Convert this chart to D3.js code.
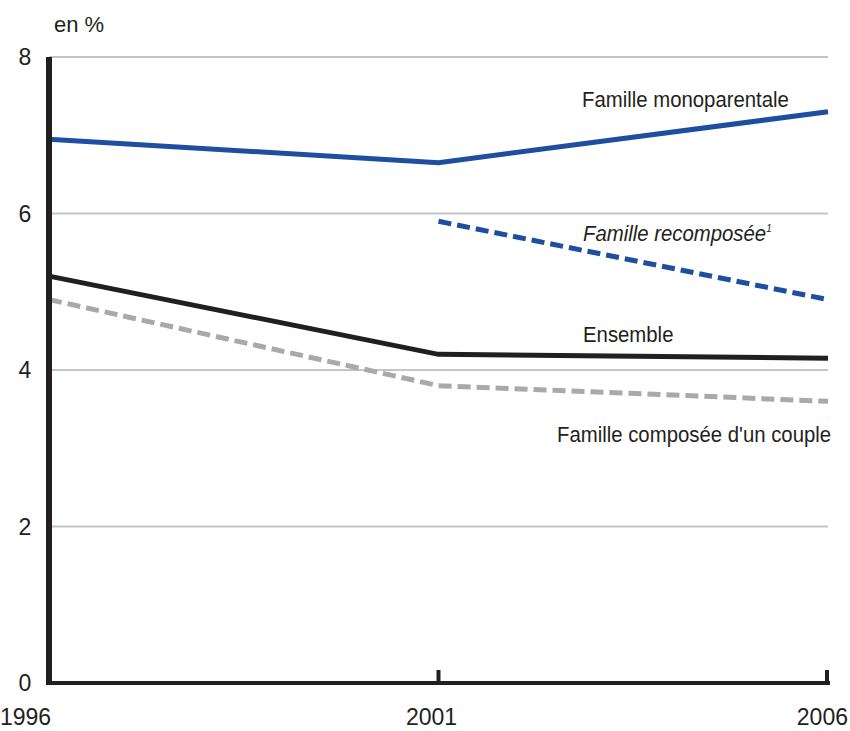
<!DOCTYPE html>
<html>
  <head>
    <meta charset="utf-8" />
    <style>
      html,
      body {
        margin: 0;
        padding: 0;
        background: #fff;
      }
      svg {
        display: block;
        font-family: 'Liberation Sans Narrow', 'Arial Narrow', 'Liberation Sans', sans-serif;
      }
    </style>
  </head>
  <body>
    <svg width="850" height="731"></svg>
    <script src="https://cdn.jsdelivr.net/npm/d3@7"></script>
    <script>
      const years = [1996, 2001, 2006];
      const yTicks = [0, 2, 4, 6, 8];
      const monoparentale = [6.95, 6.65, 7.3];
      const recomposee = [null, 5.9, 4.9];
      const ensemble = [5.2, 4.2, 4.15];
      const couple = [4.9, 3.8, 3.6];

      const series = [
        { name: 'couple', values: couple, color: '#a7a9ac', dash: '13,6' },
        { name: 'ensemble', values: ensemble, color: '#231f20', dash: null },
        { name: 'recomposee', values: recomposee, color: '#1e4ea0', dash: '13,6' },
        { name: 'monoparentale', values: monoparentale, color: '#1e4ea0', dash: null },
      ];

      const svg = d3.select('svg');
      const x = d3.scaleLinear().domain([1996, 2006]).range([49, 828]);
      const y = d3.scaleLinear().domain([0, 8]).range([683, 57]);

      // grille horizontale
      svg
        .append('g')
        .selectAll('line')
        .data(yTicks.filter((d) => d > 0))
        .enter()
        .append('line')
        .attr('x1', x(1996))
        .attr('x2', x(2006))
        .attr('y1', (d) => y(d))
        .attr('y2', (d) => y(d))
        .attr('stroke', '#c4c4c4')
        .attr('stroke-width', 2);

      // libellés axe y
      svg
        .append('g')
        .selectAll('text')
        .data(yTicks)
        .enter()
        .append('text')
        .attr('x', 25)
        .attr('y', (d) => y(d) + 8)
        .attr('text-anchor', 'middle')
        .attr('font-size', 23)
        .attr('fill', '#231f20')
        .text((d) => d);

      svg
        .append('text')
        .attr('x', 54)
        .attr('y', 32)
        .attr('font-size', 22)
        .attr('fill', '#231f20')
        .text('en %');

      // lignes
      const line = d3
        .line()
        .defined((d) => d.v != null)
        .x((d) => x(d.year))
        .y((d) => y(d.v));

      svg
        .append('g')
        .selectAll('path')
        .data(series)
        .enter()
        .append('path')
        .attr('d', (s) => line(years.map((yr, i) => ({ year: yr, v: s.values[i] }))))
        .attr('fill', 'none')
        .attr('stroke', (s) => s.color)
        .attr('stroke-width', 5)
        .attr('stroke-dasharray', (s) => s.dash);

      // axes
      svg
        .append('line')
        .attr('x1', x(1996))
        .attr('x2', x(1996))
        .attr('y1', y(8))
        .attr('y2', y(0) + 2)
        .attr('stroke', '#231f20')
        .attr('stroke-width', 6);

      svg
        .append('line')
        .attr('x1', x(1996) - 3)
        .attr('x2', x(2006) + 2)
        .attr('y1', y(0))
        .attr('y2', y(0))
        .attr('stroke', '#231f20')
        .attr('stroke-width', 4);

      svg
        .append('g')
        .selectAll('line')
        .data(years.slice(1))
        .enter()
        .append('line')
        .attr('x1', (d) => x(d) - (d === 2006 ? 1 : 0))
        .attr('x2', (d) => x(d) - (d === 2006 ? 1 : 0))
        .attr('y1', y(0))
        .attr('y2', y(0) - 13)
        .attr('stroke', '#231f20')
        .attr('stroke-width', 4);

      // années
      const anchors = ['start', 'middle', 'end'];
      const offsets = [-49, -7, 20];
      svg
        .append('g')
        .selectAll('text')
        .data(years)
        .enter()
        .append('text')
        .attr('x', (d, i) => x(d) + offsets[i])
        .attr('y', 725)
        .attr('text-anchor', (d, i) => anchors[i])
        .attr('font-size', 23)
        .attr('fill', '#231f20')
        .text((d) => d);

      // étiquettes des séries (police étroite simulée par un scaleX)
      const squeeze = 0.885;
      const labels = [
        { text: 'Famille monoparentale', x: 582, y: 107, italic: false },
        { text: 'Famille recomposée', x: 583, y: 241, italic: true, sup: '1' },
        { text: 'Ensemble', x: 583, y: 342, italic: false },
        { text: "Famille composée d'un couple", x: 557, y: 442, italic: false },
      ];

      const lab = svg
        .append('g')
        .selectAll('text')
        .data(labels)
        .enter()
        .append('text')
        .attr('transform', (d) => `translate(${d.x},${d.y}) scale(${squeeze},1)`)
        .attr('font-size', 23)
        .attr('font-style', (d) => (d.italic ? 'italic' : 'normal'))
        .attr('fill', '#231f20')
        .text((d) => d.text);

      lab
        .filter((d) => d.sup)
        .append('tspan')
        .attr('dy', -9)
        .attr('font-size', 11)
        .text((d) => d.sup);
    </script>
  </body>
</html>
